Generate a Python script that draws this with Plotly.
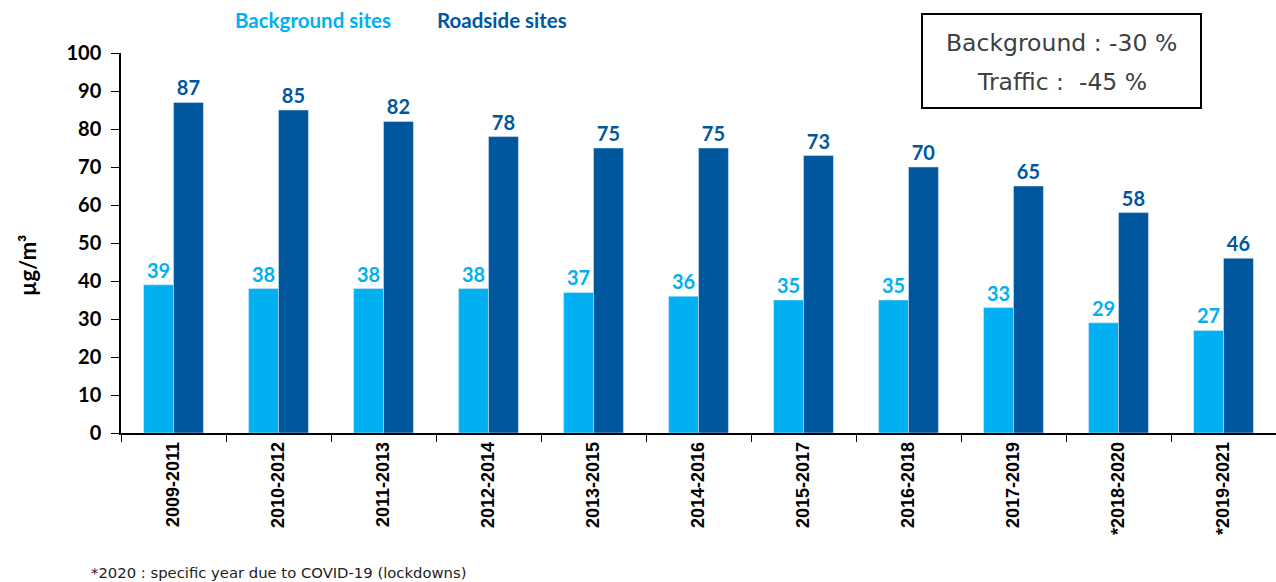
import plotly.graph_objects as go

periods = ["2009-2011", "2010-2012", "2011-2013", "2012-2014", "2013-2015", "2014-2016",
           "2015-2017", "2016-2018", "2017-2019", "*2018-2020", "*2019-2021"]
background = [39, 38, 38, 38, 37, 36, 35, 35, 33, 29, 27]
roadside = [87, 85, 82, 78, 75, 75, 73, 70, 65, 58, 46]
y_ticks = [0, 10, 20, 30, 40, 50, 60, 70, 80, 90, 100]

LIGHT = "#00B0F0"
DARK = "#00579E"

fig = go.Figure()
fig.add_trace(go.Bar(
    x=periods, y=background, name="Background sites", marker_color=LIGHT,
    text=background, textposition="outside", cliponaxis=False,
    textfont=dict(family="Lato", size=20, color=LIGHT, weight="bold"),
))
fig.add_trace(go.Bar(
    x=periods, y=roadside, name="Roadside sites", marker_color=DARK,
    text=roadside, textposition="outside", cliponaxis=False,
    textfont=dict(family="Lato", size=20, color=DARK, weight="bold"),
))

fig.update_layout(
    width=1276, height=582,
    margin=dict(l=121, r=0, t=53, b=149),
    paper_bgcolor="white", plot_bgcolor="white",
    barmode="group", bargap=0.43, bargroupgap=0,
    showlegend=False,
)
fig.update_xaxes(
    type="category", tickangle=-90, showline=True, linecolor="black", linewidth=1.5,
    ticks="outside", tickson="boundaries", ticklen=7, tickcolor="black",
    tickfont=dict(family="Liberation Sans", size=18, color="black", weight="bold"),
    showgrid=False,
)
fig.update_yaxes(
    range=[0, 100], tickvals=y_ticks, showline=True, linecolor="black", linewidth=1.5,
    ticks="outside", ticklen=8, tickcolor="black", showgrid=False, zeroline=False,
    ticklabelstandoff=6,
    tickfont=dict(family="Lato", size=20, color="black", weight="bold"),
)

# series legend as coloured titles
fig.add_annotation(x=0.166, y=1.087, xref="paper", yref="paper", showarrow=False,
                   xanchor="center", yanchor="middle",
                   text="Background sites",
                   font=dict(family="Lato", size=20.5, color=LIGHT, weight="bold"))
fig.add_annotation(x=0.3299, y=1.087, xref="paper", yref="paper", showarrow=False,
                   xanchor="center", yanchor="middle",
                   text="Roadside sites",
                   font=dict(family="Lato", size=20.5, color=DARK, weight="bold"))

# y axis unit
fig.add_annotation(x=0, y=44.2, xref="paper", yref="y", xshift=-94, showarrow=False,
                   xanchor="center", yanchor="middle",
                   text="µg/m³", textangle=-90,
                   font=dict(family="Lato", size=22, color="black", weight="bold"))

# change summary box
fig.add_shape(type="rect", xref="paper", yref="paper",
              x0=(922 - 121) / 1155, x1=(1201 - 121) / 1155,
              y0=(433 - 108) / 380, y1=(433 - 14) / 380,
              line=dict(color="black", width=2), fillcolor="white", layer="above")
fig.add_annotation(x=0.8143, y=(433 - 43) / 380, xref="paper", yref="paper", showarrow=False,
                   xanchor="center", yanchor="middle", text="Background : -30 %",
                   font=dict(family="DejaVu Sans", size=23.5, color="#404040"))
fig.add_annotation(x=0.8143, y=(433 - 82) / 380, xref="paper", yref="paper", showarrow=False,
                   xanchor="center", yanchor="middle", text="Traffic :  -45 %",
                   font=dict(family="DejaVu Sans", size=23.5, color="#404040"))

# footnote
fig.add_annotation(x=-0.0251, y=-0.366, xref="paper", yref="paper", showarrow=False,
                   xanchor="left", yanchor="middle", xshift=-3,
                   text="*2020 : specific year due to COVID-19 (lockdowns)",
                   font=dict(family="DejaVu Sans", size=14.8, color="#222222"))

fig.write_html("out.html")
